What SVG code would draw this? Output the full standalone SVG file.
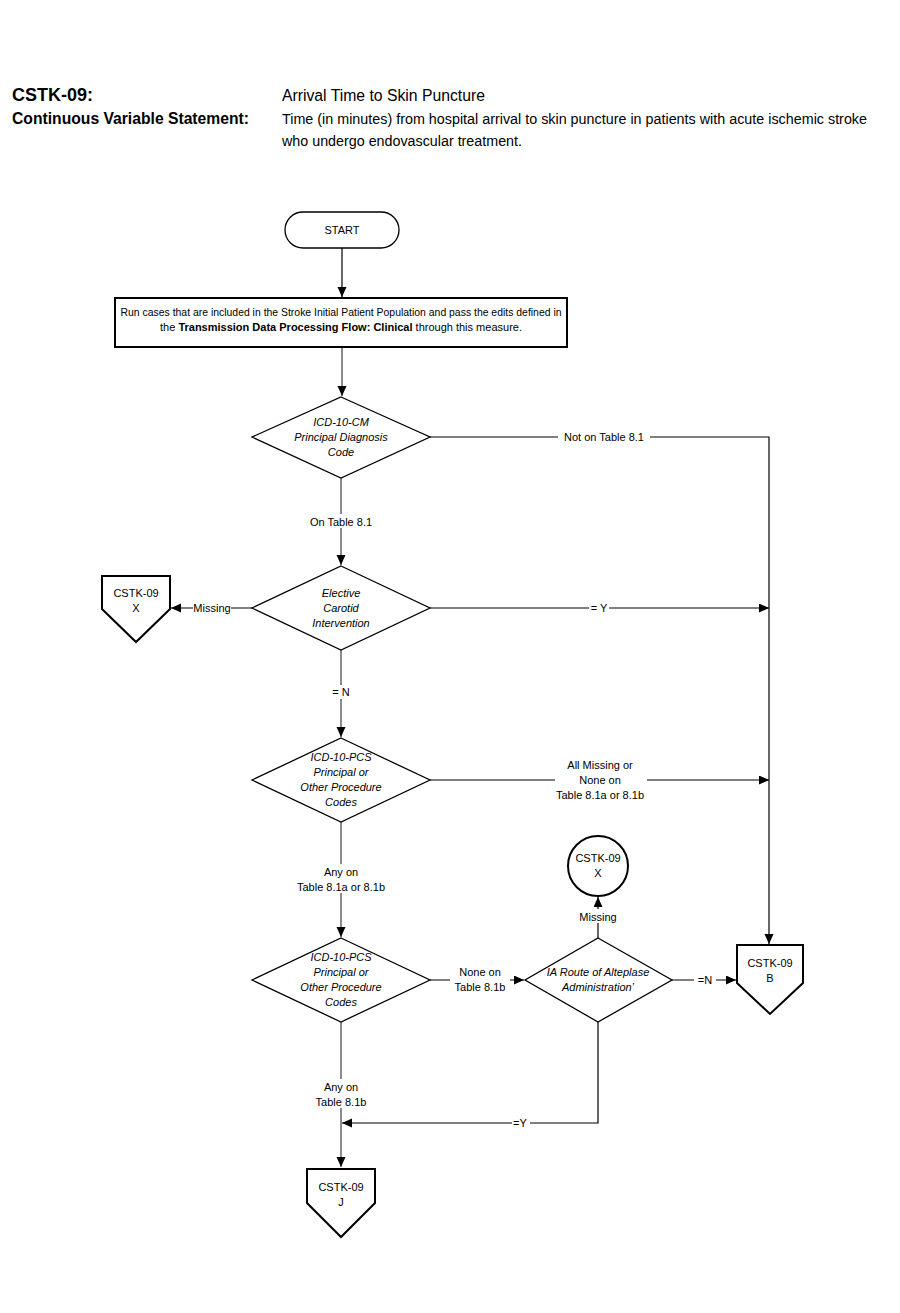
<svg xmlns="http://www.w3.org/2000/svg" width="900" height="1313" viewBox="0 0 900 1313">
<defs>
<style>
text{font-family:"Liberation Sans",Arial,sans-serif;fill:#000}
.h{font-weight:bold;font-size:18px}
.h2{font-weight:bold;font-size:16px}
.ht{font-size:16px}
.hs{font-size:14px}
.t{font-size:11px;text-anchor:middle}
.i{font-size:11px;text-anchor:middle;font-style:italic}
.shape{fill:#fff;stroke:#000;stroke-width:1.3}
.off{fill:#fff;stroke:#000;stroke-width:2}
.c{fill:none;stroke:#000;stroke-width:1.2}
.g{fill:none;stroke:#6e6e6e;stroke-width:1.6}
.bg{fill:#fff}
</style>
<marker id="a" markerUnits="userSpaceOnUse" markerWidth="10" markerHeight="10" refX="10" refY="4.5" orient="auto">
<path d="M0,0 L10,4.5 L0,9 z" fill="#000"/>
</marker>
</defs>
<rect width="900" height="1313" fill="#fff"/>

<g id="header">
<text class="h" x="12" y="101">CSTK-09:</text>
<text class="h2" x="12" y="124" textLength="237" lengthAdjust="spacingAndGlyphs">Continuous Variable Statement:</text>
<text class="ht" x="282" y="101" textLength="203" lengthAdjust="spacingAndGlyphs">Arrival Time to Skin Puncture</text>
<text class="hs" x="282" y="124" textLength="585" lengthAdjust="spacingAndGlyphs">Time (in minutes) from hospital arrival to skin puncture in patients with acute ischemic stroke</text>
<text class="hs" x="282" y="146" textLength="240" lengthAdjust="spacingAndGlyphs">who undergo endovascular treatment.</text>
</g>

<g id="connectors">
<path class="c" d="M342,248 V297" marker-end="url(#a)"/>
<path class="g" d="M342,347 V396" marker-end="url(#a)"/>
<path class="c" d="M430,437 H769 V944" marker-end="url(#a)"/>
<path class="g" d="M341,478 V565" marker-end="url(#a)"/>
<path class="c" d="M252,608 H171" marker-end="url(#a)"/>
<path class="c" d="M430,608 H769" marker-end="url(#a)"/>
<path class="g" d="M341,650 V737" marker-end="url(#a)"/>
<path class="c" d="M430,780 H769" marker-end="url(#a)"/>
<path class="g" d="M341,822 V937" marker-end="url(#a)"/>
<path class="c" d="M430,980 H524" marker-end="url(#a)"/>
<path class="c" d="M598,938 V897" marker-end="url(#a)"/>
<path class="c" d="M672,980 H736" marker-end="url(#a)"/>
<path class="c" d="M598,1022 V1123 H342" marker-end="url(#a)"/>
<path class="g" d="M341,1022 V1167" marker-end="url(#a)"/>

<rect class="bg" x="558" y="430" width="92" height="14"/>
<text class="t" x="604" y="441">Not on Table 8.1</text>
<rect class="bg" x="308" y="514" width="66" height="14"/>
<text class="t" x="341" y="526">On Table 8.1</text>
<rect class="bg" x="193" y="601" width="38" height="14"/>
<text class="t" x="212" y="612">Missing</text>
<rect class="bg" x="589" y="601" width="20" height="14"/>
<text class="t" x="599" y="612">= Y</text>
<rect class="bg" x="330" y="685" width="22" height="14"/>
<text class="t" x="341" y="696">= N</text>
<rect class="bg" x="555" y="757" width="92" height="44"/>
<text class="t" x="600" y="769">All Missing or</text>
<text class="t" x="600" y="784">None on</text>
<text class="t" x="600" y="799">Table 8.1a or 8.1b</text>
<rect class="bg" x="293" y="864" width="96" height="29"/>
<text class="t" x="341" y="876">Any on</text>
<text class="t" x="341" y="891">Table 8.1a or 8.1b</text>
<rect class="bg" x="450" y="964" width="60" height="29"/>
<text class="t" x="480" y="976">None on</text>
<text class="t" x="480" y="991">Table 8.1b</text>
<rect class="bg" x="578" y="909" width="40" height="14"/>
<text class="t" x="598" y="921">Missing</text>
<rect class="bg" x="694" y="973" width="22" height="14"/>
<text class="t" x="705" y="984">=N</text>
<rect class="bg" x="512" y="1116" width="18" height="14"/>
<text class="t" x="520" y="1127">=Y</text>
<rect class="bg" x="310" y="1079" width="62" height="29"/>
<text class="t" x="341" y="1091">Any on</text>
<text class="t" x="341" y="1106">Table 8.1b</text>
</g>

<g id="start">
<rect class="shape" x="285" y="212" width="114" height="36" rx="18" ry="18"/>
<text class="t" x="342" y="234">START</text>
</g>

<g id="run-cases">
<rect x="115" y="298" width="452" height="49" fill="#fff" stroke="#000" stroke-width="2"/>
<text class="t" x="341" y="316" textLength="441" lengthAdjust="spacingAndGlyphs">Run cases that are included in the Stroke Initial Patient Population and pass the edits defined in</text>
<text class="t" x="341" y="331">the <tspan font-weight="bold">Transmission Data Processing Flow: Clinical</tspan> through this measure.</text>
</g>

<g id="d-principal-dx">
<polygon class="shape" points="341,397 430,437 341,478 252,437"/>
<text class="i" x="341" y="426">ICD-10-CM</text>
<text class="i" x="341" y="441">Principal Diagnosis</text>
<text class="i" x="341" y="456">Code</text>
</g>

<g id="d-elective">
<polygon class="shape" points="341,566 430,608 341,650 252,608"/>
<text class="i" x="341" y="597">Elective</text>
<text class="i" x="341" y="612">Carotid</text>
<text class="i" x="341" y="627">Intervention</text>
</g>

<g id="off-x-left">
<polygon class="off" points="102,576 170,576 170,609 136,642 102,609"/>
<text class="t" x="136" y="597">CSTK-09</text>
<text class="t" x="136" y="612">X</text>
</g>

<g id="d-pcs-1">
<polygon class="shape" points="341,738 430,780 341,822 252,780"/>
<text class="i" x="341" y="761">ICD-10-PCS</text>
<text class="i" x="341" y="776">Principal or</text>
<text class="i" x="341" y="791">Other Procedure</text>
<text class="i" x="341" y="806">Codes</text>
</g>

<g id="d-pcs-2">
<polygon class="shape" points="341,938 430,980 341,1022 252,980"/>
<text class="i" x="341" y="961">ICD-10-PCS</text>
<text class="i" x="341" y="976">Principal or</text>
<text class="i" x="341" y="991">Other Procedure</text>
<text class="i" x="341" y="1006">Codes</text>
</g>

<g id="d-ia-route">
<polygon class="shape" points="598,938 672,980 598,1022 525,980"/>
<text class="i" x="598" y="976">IA Route of Alteplase</text>
<text class="i" x="598" y="991">Administration’</text>
</g>

<g id="circle-x">
<circle class="off" cx="598" cy="866" r="30"/>
<text class="t" x="598" y="862">CSTK-09</text>
<text class="t" x="598" y="877">X</text>
</g>

<g id="off-b">
<polygon class="off" points="737,945 803,945 803,983 770,1014 737,983"/>
<text class="t" x="770" y="967">CSTK-09</text>
<text class="t" x="770" y="982">B</text>
</g>

<g id="off-j">
<polygon class="off" points="307,1169 375,1169 375,1203 341,1237 307,1203"/>
<text class="t" x="341" y="1191">CSTK-09</text>
<text class="t" x="341" y="1206">J</text>
</g>
</svg>
